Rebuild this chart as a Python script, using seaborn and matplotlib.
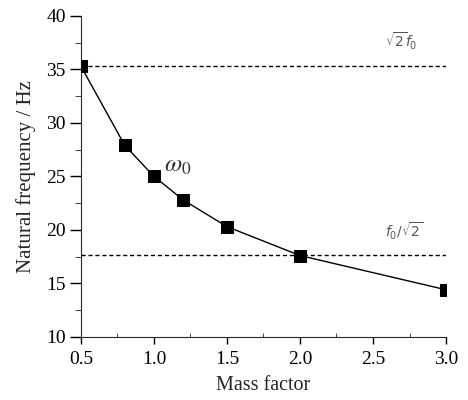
import seaborn as sns
import matplotlib.pyplot as plt
import pandas as pd
from matplotlib.ticker import MultipleLocator

# Data
mass_factor = [0.5, 0.8, 1.0, 1.2, 1.5, 2.0, 3.0]
natural_freq = [35.3, 27.9, 25.0, 22.8, 20.3, 17.6, 14.4]
upper_ref = 35.3   # sqrt(2) * f0
lower_ref = 17.65  # f0 / sqrt(2)

sns.set_style("ticks")
plt.rcParams["font.family"] = ["Liberation Serif", "DejaVu Serif"]
plt.rcParams["mathtext.fontset"] = "stix"

df = pd.DataFrame({"mass": mass_factor, "freq": natural_freq})

fig, ax = plt.subplots(figsize=(4.68, 4.0), dpi=100)
fig.subplots_adjust(left=0.173, right=0.953, top=0.96, bottom=0.158)

ax.axhline(upper_ref, color="black", lw=1.0, ls=(0, (3, 2)), zorder=1)
ax.axhline(lower_ref, color="black", lw=1.0, ls=(0, (3, 2)), zorder=1)

sns.lineplot(data=df, x="mass", y="freq", ax=ax, color="black", lw=1.0,
             marker="s", markersize=8.3, markeredgecolor="black", zorder=3)
# markers at the ends are cut by the axes edge, as in the original
for line in ax.lines:
    line.set_clip_path(ax.patch)

ax.set_xlim(0.5, 3.0)
ax.set_ylim(10, 40)
ax.xaxis.set_major_locator(MultipleLocator(0.5))
ax.xaxis.set_minor_locator(MultipleLocator(0.25))
ax.yaxis.set_major_locator(MultipleLocator(5))
ax.yaxis.set_minor_locator(MultipleLocator(2.5))
ax.tick_params(axis="both", which="major", width=1, labelsize=14, colors="black")
ax.tick_params(axis="x", which="major", direction="out", length=5, pad=5)
ax.tick_params(axis="y", which="major", direction="out", length=8, pad=3)
ax.tick_params(axis="x", which="minor", direction="in", length=3)
ax.tick_params(axis="y", which="minor", direction="out", length=4)

sns.despine(ax=ax)
ax.set_xlabel("Mass factor", fontsize=14.5, labelpad=6)
ax.set_ylabel("Natural frequency / Hz", fontsize=15, labelpad=7)

ax.text(2.58, 37.0, r"$\sqrt{2}f_0$", fontsize=10, color="#555555",
        family=["DejaVu Sans"], math_fontfamily="dejavusans")
ax.text(2.58, 19.3, r"$f_0/\sqrt{2}$", fontsize=10, color="#555555",
        family=["DejaVu Sans"], math_fontfamily="dejavusans")
ax.text(1.07, 25.4, r"$\omega_0$", fontsize=18, color="#333333")

fig.savefig("out.png", dpi=100)
